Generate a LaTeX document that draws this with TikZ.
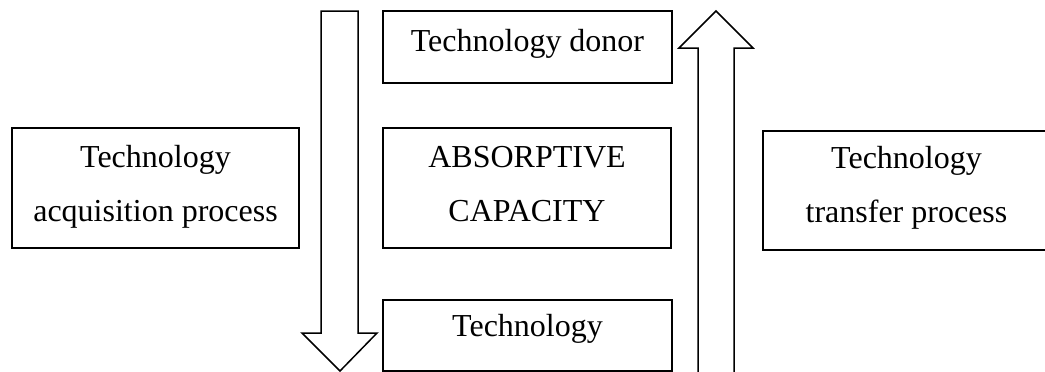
\documentclass[tikz,border=0pt]{standalone}
\usepackage{fontspec}
\setmainfont{Liberation Serif}
\usetikzlibrary{positioning, calc}

\begin{document}
\begin{tikzpicture}[
        x=1pt, y=-1pt,
        box/.style={rectangle, draw=black, line width=1.5pt, inner sep=0pt},
        lbl/.style={anchor=base, align=center, inner sep=0pt,
            font=\fontsize{32}{54}\selectfont},
        blockarrow/.style={draw=black, fill=white, line width=1.5pt, line join=miter}
        ]
        \useasboundingbox (0,0) rectangle (1045,372);

        % boxes
        \node[box, minimum width=287pt, minimum height=120pt] (acq) at (155.5,188) {};
        \node[box, minimum width=289pt, minimum height=72pt] (donor) at (527.5,47) {};
        \node[box, minimum width=288pt, minimum height=120pt] (absorb) at (527,188) {};
        \node[box, minimum width=289pt, minimum height=71pt] (tech) at (527.5,335.5) {};
        \node[box, minimum width=287pt, minimum height=119pt] (transfer) at (906.5,190.5) {};

        % base anchor sits on the last line
        \node[lbl] (acqtext) at ($(acq.north)+(0,94)$) {Technology\\acquisition process};
        \node[lbl] (donortext) at ($(donor.north)+(0,41)$) {Technology donor};
        \node[lbl] (absorbtext) at ($(absorb.north)+(0,94)$) {ABSORPTIVE\\CAPACITY};
        \node[lbl] (techtext) at ($(tech.north)+(0,37)$) {Technology};
        \node[lbl] (transfertext) at ($(transfer.north)+(0,92)$) {Technology\\transfer process};

        % block arrows
        \draw[blockarrow] (321,11) -- (358,11) -- (358,333) -- (377,333) -- (340,371)
            -- (302,333) -- (321,333) -- cycle;
        \draw[blockarrow] (698,380) -- (698,48) -- (679,48) -- (716,11) -- (753,48)
            -- (734,48) -- (734,380);
    \end{tikzpicture}
\end{document}
